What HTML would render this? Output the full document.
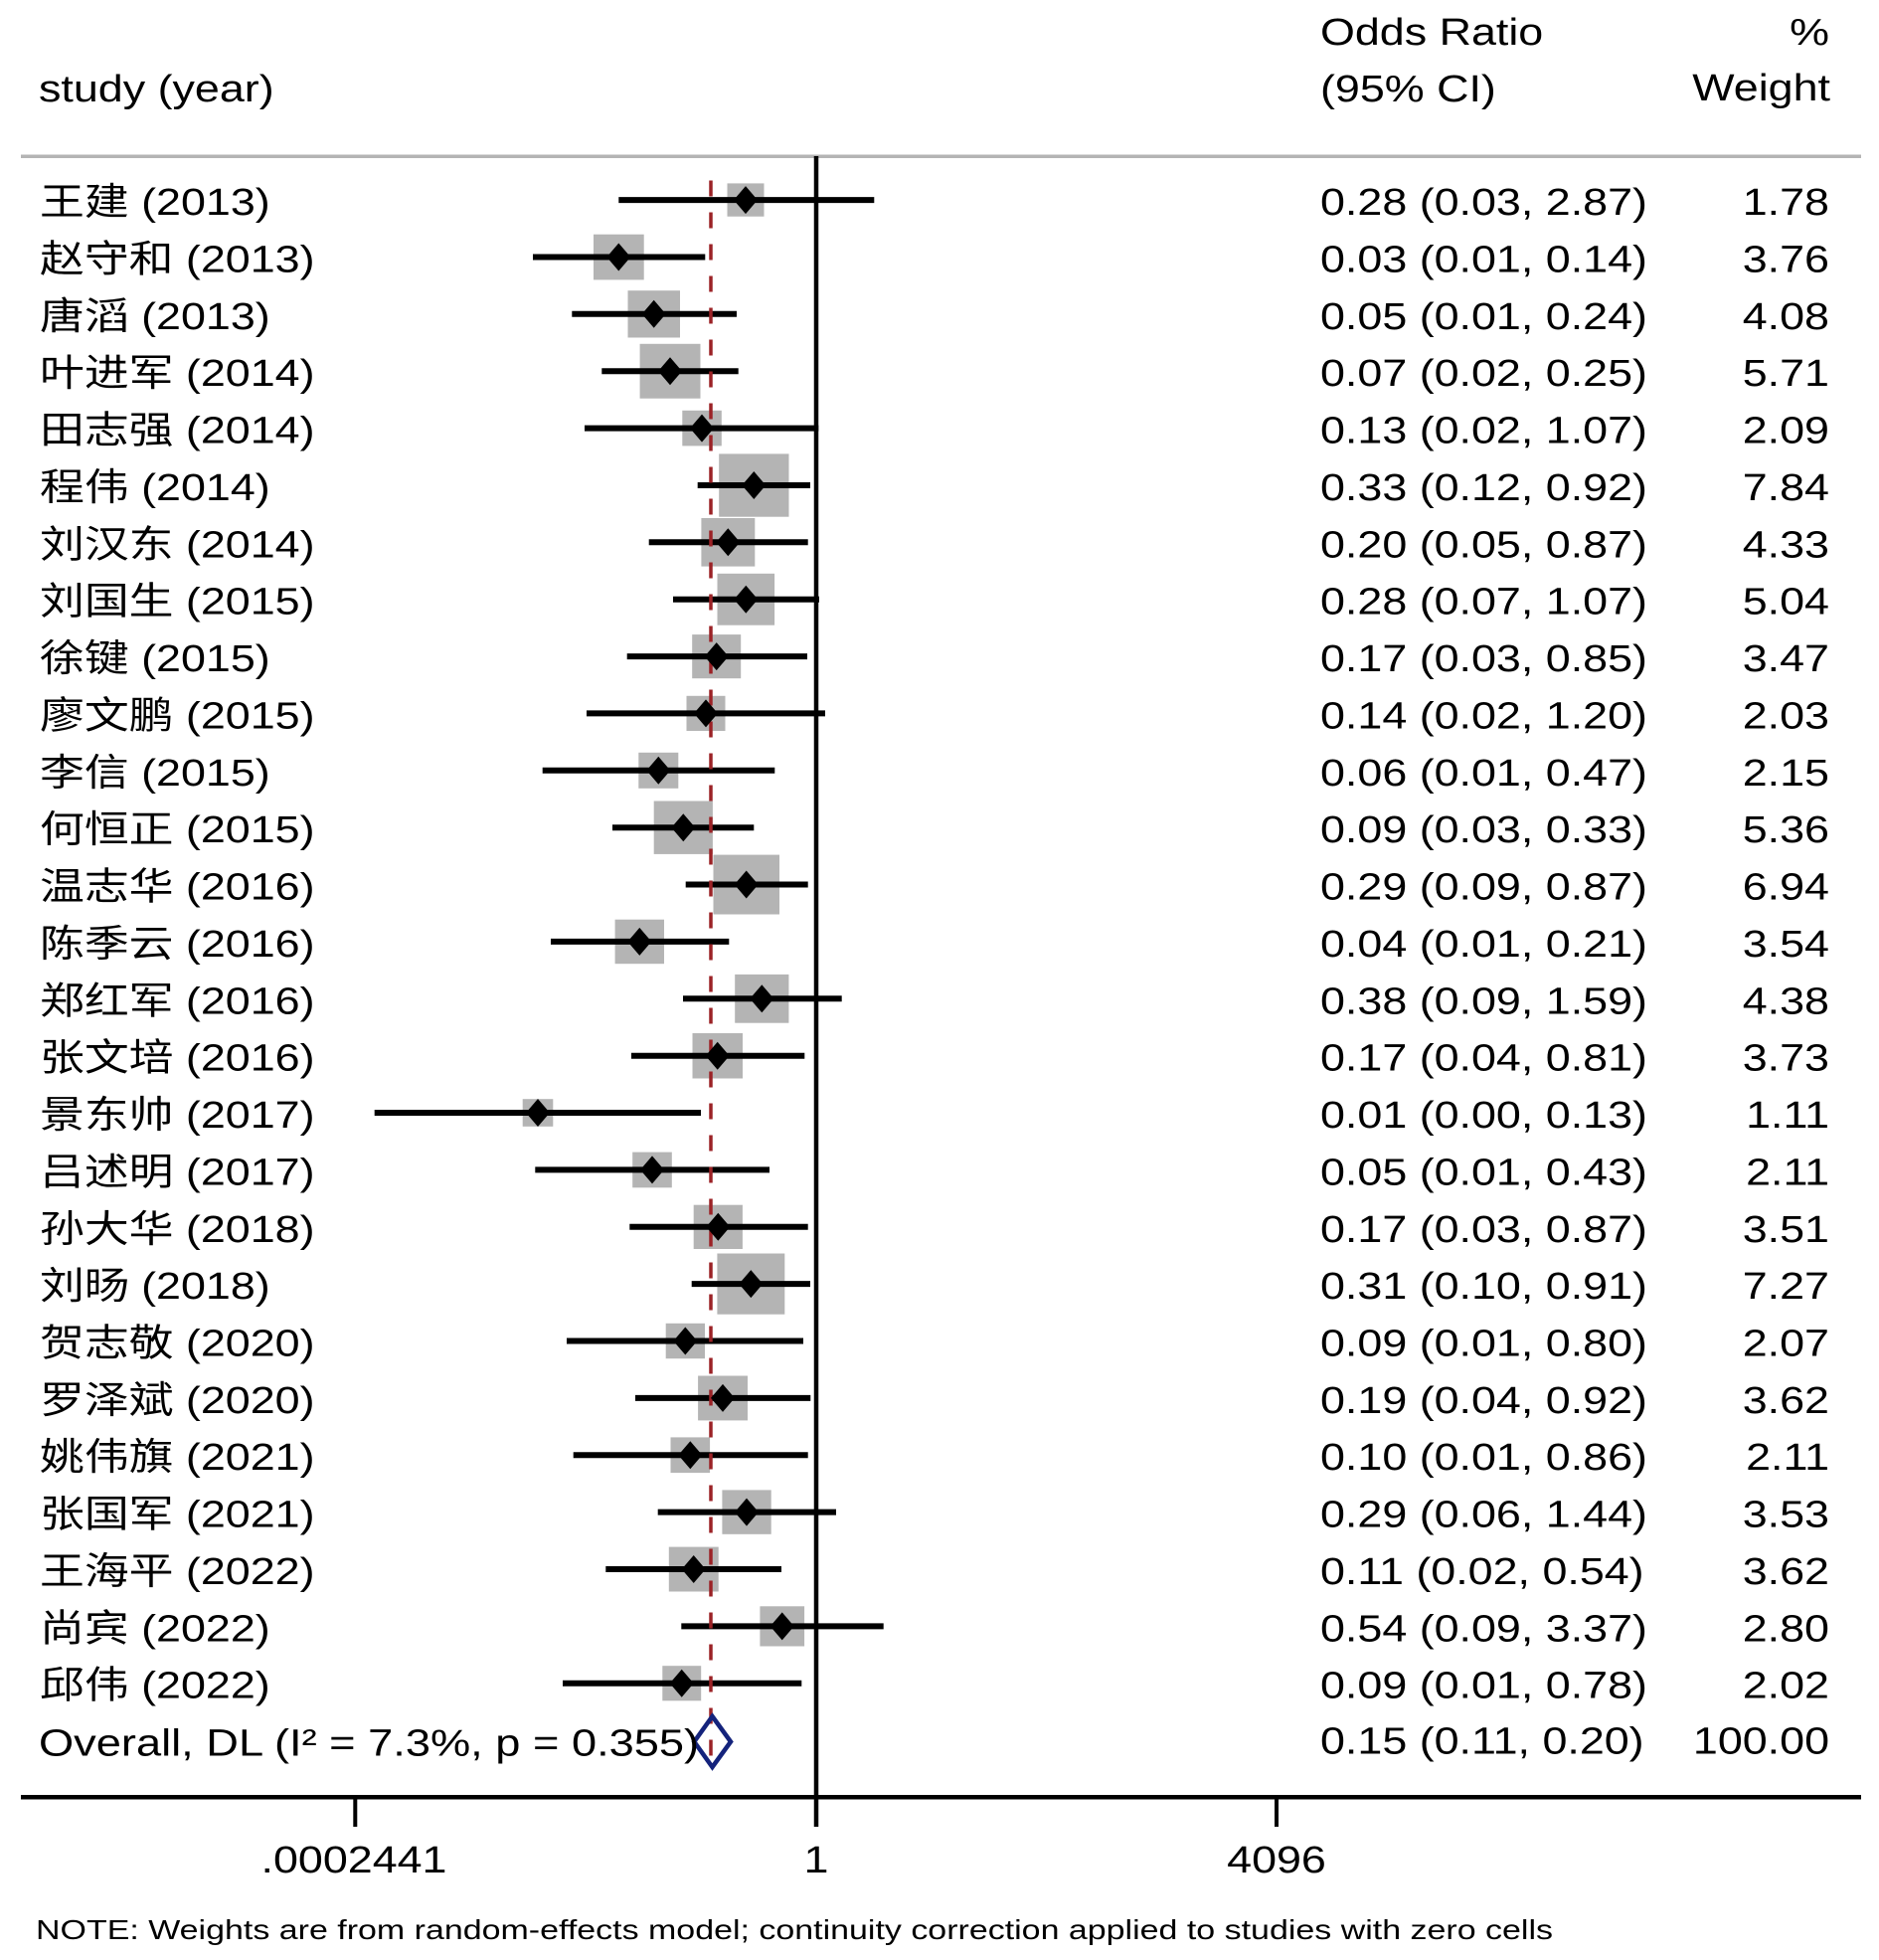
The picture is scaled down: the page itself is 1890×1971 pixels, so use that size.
<!DOCTYPE html>
<html>
<head>
<meta charset="utf-8">
<style>
  html,body{margin:0;padding:0;background:#fff;}
  svg{display:block;}
  text{font-family:"Liberation Sans","Noto Sans CJK SC",sans-serif;font-size:38px;fill:#000;}
  .note{font-size:28px;}
</style>
</head>
<body>
<svg width="1890" height="1971" viewBox="0 0 1890 1971" xmlns="http://www.w3.org/2000/svg">
  <rect x="0" y="0" width="1890" height="1971" fill="#fff"/>

  <!-- headers -->
  <text transform="translate(39,102) scale(1.18,1)">study (year)</text>
  <text transform="translate(1328,45) scale(1.18,1)">Odds Ratio</text>
  <text transform="translate(1328,102) scale(1.18,1)">(95% CI)</text>
  <text transform="translate(1840,45) scale(1.18,1)" text-anchor="end">%</text>
  <text transform="translate(1841,101) scale(1.18,1)" text-anchor="end">Weight</text>

  <!-- header rule -->
  <line x1="21" y1="157.3" x2="1872" y2="157.3" stroke="#b4b4b4" stroke-width="3.5"/>

  <!-- boxes -->
  <g fill="#b4b4b4">
    <rect x="731.5" y="184.4" width="37.0" height="33.3"/>
    <rect x="597.0" y="235.7" width="50.7" height="45.7"/>
    <rect x="631.5" y="292.2" width="52.5" height="47.3"/>
    <rect x="643.6" y="345.8" width="60.9" height="54.9"/>
    <rect x="686.3" y="412.8" width="39.5" height="35.6"/>
    <rect x="723.2" y="456.4" width="70.3" height="63.3"/>
    <rect x="705.4" y="521.0" width="53.9" height="48.6"/>
    <rect x="721.5" y="576.8" width="57.6" height="51.9"/>
    <rect x="696.2" y="638.1" width="49.0" height="44.1"/>
    <rect x="690.5" y="699.8" width="39.0" height="35.2"/>
    <rect x="642.3" y="756.8" width="40.0" height="36.0"/>
    <rect x="657.7" y="805.5" width="59.2" height="53.4"/>
    <rect x="717.5" y="859.6" width="66.5" height="59.9"/>
    <rect x="618.6" y="924.7" width="49.4" height="44.5"/>
    <rect x="739.2" y="979.9" width="54.2" height="48.8"/>
    <rect x="696.5" y="1039.0" width="50.5" height="45.5"/>
    <rect x="525.7" y="1105.2" width="30.6" height="27.6"/>
    <rect x="636.2" y="1158.6" width="39.6" height="35.7"/>
    <rect x="697.7" y="1211.7" width="49.2" height="44.3"/>
    <rect x="721.4" y="1260.5" width="67.9" height="61.2"/>
    <rect x="669.7" y="1330.8" width="39.3" height="35.4"/>
    <rect x="702.1" y="1383.5" width="49.9" height="44.9"/>
    <rect x="674.5" y="1445.4" width="39.6" height="35.7"/>
    <rect x="726.4" y="1498.4" width="49.3" height="44.4"/>
    <rect x="672.8" y="1555.6" width="49.9" height="44.9"/>
    <rect x="764.4" y="1615.3" width="44.7" height="40.2"/>
    <rect x="666.3" y="1675.2" width="38.9" height="35.1"/>
  </g>

  <!-- null line and axis -->
  <line x1="821" y1="157" x2="821" y2="1837" stroke="#000" stroke-width="4.5"/>
  <line x1="21" y1="1807.3" x2="1872" y2="1807.3" stroke="#000" stroke-width="4.5"/>
  <line x1="357.3" y1="1807" x2="357.3" y2="1837" stroke="#000" stroke-width="4"/>
  <line x1="1284" y1="1807" x2="1284" y2="1837" stroke="#000" stroke-width="4"/>

  <!-- CI lines -->
  <g stroke="#000" stroke-width="6">
    <line x1="622.3" y1="201.1" x2="879.3" y2="201.1"/>
    <line x1="536.0" y1="258.5" x2="709.3" y2="258.5"/>
    <line x1="575.3" y1="315.8" x2="741.0" y2="315.8"/>
    <line x1="605.3" y1="373.2" x2="742.7" y2="373.2"/>
    <line x1="588.0" y1="430.6" x2="823.3" y2="430.6"/>
    <line x1="701.7" y1="488.0" x2="815.0" y2="488.0"/>
    <line x1="652.7" y1="545.3" x2="812.7" y2="545.3"/>
    <line x1="677.0" y1="602.7" x2="824.0" y2="602.7"/>
    <line x1="630.7" y1="660.1" x2="812.0" y2="660.1"/>
    <line x1="590.0" y1="717.4" x2="830.0" y2="717.4"/>
    <line x1="545.7" y1="774.8" x2="779.3" y2="774.8"/>
    <line x1="616.0" y1="832.2" x2="758.3" y2="832.2"/>
    <line x1="689.7" y1="889.5" x2="812.7" y2="889.5"/>
    <line x1="554.0" y1="946.9" x2="733.3" y2="946.9"/>
    <line x1="687.0" y1="1004.3" x2="846.7" y2="1004.3"/>
    <line x1="635.0" y1="1061.7" x2="809.3" y2="1061.7"/>
    <line x1="376.7" y1="1119.0" x2="705.0" y2="1119.0"/>
    <line x1="538.3" y1="1176.4" x2="774.0" y2="1176.4"/>
    <line x1="633.3" y1="1233.8" x2="812.7" y2="1233.8"/>
    <line x1="695.7" y1="1291.1" x2="815.0" y2="1291.1"/>
    <line x1="570.0" y1="1348.5" x2="808.0" y2="1348.5"/>
    <line x1="639.0" y1="1405.9" x2="815.3" y2="1405.9"/>
    <line x1="576.7" y1="1463.2" x2="812.7" y2="1463.2"/>
    <line x1="661.7" y1="1520.6" x2="841.0" y2="1520.6"/>
    <line x1="609.3" y1="1578.0" x2="786.0" y2="1578.0"/>
    <line x1="685.3" y1="1635.4" x2="888.7" y2="1635.4"/>
    <line x1="566.0" y1="1692.7" x2="806.3" y2="1692.7"/>
  </g>

  <!-- overall dashed line -->
  <line x1="715" y1="181.5" x2="715" y2="1778" stroke="#9b2226" stroke-width="3.5" stroke-dasharray="16 16"/>

  <!-- point diamonds -->
  <g fill="#000">
    <polygon points="750,187.1 762,201.1 750,215.1 738,201.1"/>
    <polygon points="622.3,244.5 634.3,258.5 622.3,272.5 610.3,258.5"/>
    <polygon points="657.7,301.8 669.7,315.8 657.7,329.8 645.7,315.8"/>
    <polygon points="674,359.2 686,373.2 674,387.2 662,373.2"/>
    <polygon points="706,416.6 718,430.6 706,444.6 694,430.6"/>
    <polygon points="758.3,474 770.3,488 758.3,502 746.3,488"/>
    <polygon points="732.3,531.3 744.3,545.3 732.3,559.3 720.3,545.3"/>
    <polygon points="750.3,588.7 762.3,602.7 750.3,616.7 738.3,602.7"/>
    <polygon points="720.7,646.1 732.7,660.1 720.7,674.1 708.7,660.1"/>
    <polygon points="710,703.4 722,717.4 710,731.4 698,717.4"/>
    <polygon points="662.3,760.8 674.3,774.8 662.3,788.8 650.3,774.8"/>
    <polygon points="687.3,818.2 699.3,832.2 687.3,846.2 675.3,832.2"/>
    <polygon points="750.7,875.5 762.7,889.5 750.7,903.5 738.7,889.5"/>
    <polygon points="643.3,932.9 655.3,946.9 643.3,960.9 631.3,946.9"/>
    <polygon points="766.3,990.3 778.3,1004.3 766.3,1018.3 754.3,1004.3"/>
    <polygon points="721.7,1047.7 733.7,1061.7 721.7,1075.7 709.7,1061.7"/>
    <polygon points="541,1105 553,1119 541,1133 529,1119"/>
    <polygon points="656,1162.4 668,1176.4 656,1190.4 644,1176.4"/>
    <polygon points="722.3,1219.8 734.3,1233.8 722.3,1247.8 710.3,1233.8"/>
    <polygon points="755.3,1277.1 767.3,1291.1 755.3,1305.1 743.3,1291.1"/>
    <polygon points="689.3,1334.5 701.3,1348.5 689.3,1362.5 677.3,1348.5"/>
    <polygon points="727,1391.9 739,1405.9 727,1419.9 715,1405.9"/>
    <polygon points="694.3,1449.2 706.3,1463.2 694.3,1477.2 682.3,1463.2"/>
    <polygon points="751,1506.6 763,1520.6 751,1534.6 739,1520.6"/>
    <polygon points="697.7,1564 709.7,1578 697.7,1592 685.7,1578"/>
    <polygon points="786.7,1621.4 798.7,1635.4 786.7,1649.4 774.7,1635.4"/>
    <polygon points="685.7,1678.7 697.7,1692.7 685.7,1706.7 673.7,1692.7"/>
  </g>

  <!-- overall diamond -->
  <polygon points="716.5,1726 735,1751.5 716.5,1777 698.3,1751.5" fill="none" stroke="#14237c" stroke-width="4.5" stroke-linejoin="miter"/>

  <!-- study labels -->
  <g>
    <text transform="translate(40,216.1) scale(1.18,1)">王建 (2013)</text>
    <text transform="translate(40,273.5) scale(1.18,1)">赵守和 (2013)</text>
    <text transform="translate(40,330.8) scale(1.18,1)">唐滔 (2013)</text>
    <text transform="translate(40,388.2) scale(1.18,1)">叶进军 (2014)</text>
    <text transform="translate(40,445.6) scale(1.18,1)">田志强 (2014)</text>
    <text transform="translate(40,503.0) scale(1.18,1)">程伟 (2014)</text>
    <text transform="translate(40,560.3) scale(1.18,1)">刘汉东 (2014)</text>
    <text transform="translate(40,617.7) scale(1.18,1)">刘国生 (2015)</text>
    <text transform="translate(40,675.1) scale(1.18,1)">徐键 (2015)</text>
    <text transform="translate(40,732.4) scale(1.18,1)">廖文鹏 (2015)</text>
    <text transform="translate(40,789.8) scale(1.18,1)">李信 (2015)</text>
    <text transform="translate(40,847.2) scale(1.18,1)">何恒正 (2015)</text>
    <text transform="translate(40,904.5) scale(1.18,1)">温志华 (2016)</text>
    <text transform="translate(40,961.9) scale(1.18,1)">陈季云 (2016)</text>
    <text transform="translate(40,1019.3) scale(1.18,1)">郑红军 (2016)</text>
    <text transform="translate(40,1076.7) scale(1.18,1)">张文培 (2016)</text>
    <text transform="translate(40,1134.0) scale(1.18,1)">景东帅 (2017)</text>
    <text transform="translate(40,1191.4) scale(1.18,1)">吕述明 (2017)</text>
    <text transform="translate(40,1248.8) scale(1.18,1)">孙大华 (2018)</text>
    <text transform="translate(40,1306.1) scale(1.18,1)">刘旸 (2018)</text>
    <text transform="translate(40,1363.5) scale(1.18,1)">贺志敬 (2020)</text>
    <text transform="translate(40,1420.9) scale(1.18,1)">罗泽斌 (2020)</text>
    <text transform="translate(40,1478.2) scale(1.18,1)">姚伟旗 (2021)</text>
    <text transform="translate(40,1535.6) scale(1.18,1)">张国军 (2021)</text>
    <text transform="translate(40,1593.0) scale(1.18,1)">王海平 (2022)</text>
    <text transform="translate(40,1650.4) scale(1.18,1)">尚宾 (2022)</text>
    <text transform="translate(40,1707.7) scale(1.18,1)">邱伟 (2022)</text>
    <text transform="translate(39,1765.6) scale(1.19,1)">Overall, DL (I² = 7.3%, p = 0.355)</text>
  </g>

  <!-- OR (95% CI) -->
  <g>
    <text transform="translate(1328,216.1) scale(1.18,1)">0.28 (0.03, 2.87)</text>
    <text transform="translate(1328,273.5) scale(1.18,1)">0.03 (0.01, 0.14)</text>
    <text transform="translate(1328,330.8) scale(1.18,1)">0.05 (0.01, 0.24)</text>
    <text transform="translate(1328,388.2) scale(1.18,1)">0.07 (0.02, 0.25)</text>
    <text transform="translate(1328,445.6) scale(1.18,1)">0.13 (0.02, 1.07)</text>
    <text transform="translate(1328,503.0) scale(1.18,1)">0.33 (0.12, 0.92)</text>
    <text transform="translate(1328,560.3) scale(1.18,1)">0.20 (0.05, 0.87)</text>
    <text transform="translate(1328,617.7) scale(1.18,1)">0.28 (0.07, 1.07)</text>
    <text transform="translate(1328,675.1) scale(1.18,1)">0.17 (0.03, 0.85)</text>
    <text transform="translate(1328,732.4) scale(1.18,1)">0.14 (0.02, 1.20)</text>
    <text transform="translate(1328,789.8) scale(1.18,1)">0.06 (0.01, 0.47)</text>
    <text transform="translate(1328,847.2) scale(1.18,1)">0.09 (0.03, 0.33)</text>
    <text transform="translate(1328,904.5) scale(1.18,1)">0.29 (0.09, 0.87)</text>
    <text transform="translate(1328,961.9) scale(1.18,1)">0.04 (0.01, 0.21)</text>
    <text transform="translate(1328,1019.3) scale(1.18,1)">0.38 (0.09, 1.59)</text>
    <text transform="translate(1328,1076.7) scale(1.18,1)">0.17 (0.04, 0.81)</text>
    <text transform="translate(1328,1134.0) scale(1.18,1)">0.01 (0.00, 0.13)</text>
    <text transform="translate(1328,1191.4) scale(1.18,1)">0.05 (0.01, 0.43)</text>
    <text transform="translate(1328,1248.8) scale(1.18,1)">0.17 (0.03, 0.87)</text>
    <text transform="translate(1328,1306.1) scale(1.18,1)">0.31 (0.10, 0.91)</text>
    <text transform="translate(1328,1363.5) scale(1.18,1)">0.09 (0.01, 0.80)</text>
    <text transform="translate(1328,1420.9) scale(1.18,1)">0.19 (0.04, 0.92)</text>
    <text transform="translate(1328,1478.2) scale(1.18,1)">0.10 (0.01, 0.86)</text>
    <text transform="translate(1328,1535.6) scale(1.18,1)">0.29 (0.06, 1.44)</text>
    <text transform="translate(1328,1593.0) scale(1.18,1)">0.11 (0.02, 0.54)</text>
    <text transform="translate(1328,1650.4) scale(1.18,1)">0.54 (0.09, 3.37)</text>
    <text transform="translate(1328,1707.7) scale(1.18,1)">0.09 (0.01, 0.78)</text>
    <text transform="translate(1328,1763.6) scale(1.18,1)">0.15 (0.11, 0.20)</text>
  </g>

  <!-- weights -->
  <g text-anchor="end">
    <text transform="translate(1840,216.1) scale(1.18,1)">1.78</text>
    <text transform="translate(1840,273.5) scale(1.18,1)">3.76</text>
    <text transform="translate(1840,330.8) scale(1.18,1)">4.08</text>
    <text transform="translate(1840,388.2) scale(1.18,1)">5.71</text>
    <text transform="translate(1840,445.6) scale(1.18,1)">2.09</text>
    <text transform="translate(1840,503.0) scale(1.18,1)">7.84</text>
    <text transform="translate(1840,560.3) scale(1.18,1)">4.33</text>
    <text transform="translate(1840,617.7) scale(1.18,1)">5.04</text>
    <text transform="translate(1840,675.1) scale(1.18,1)">3.47</text>
    <text transform="translate(1840,732.4) scale(1.18,1)">2.03</text>
    <text transform="translate(1840,789.8) scale(1.18,1)">2.15</text>
    <text transform="translate(1840,847.2) scale(1.18,1)">5.36</text>
    <text transform="translate(1840,904.5) scale(1.18,1)">6.94</text>
    <text transform="translate(1840,961.9) scale(1.18,1)">3.54</text>
    <text transform="translate(1840,1019.3) scale(1.18,1)">4.38</text>
    <text transform="translate(1840,1076.7) scale(1.18,1)">3.73</text>
    <text transform="translate(1840,1134.0) scale(1.18,1)">1.11</text>
    <text transform="translate(1840,1191.4) scale(1.18,1)">2.11</text>
    <text transform="translate(1840,1248.8) scale(1.18,1)">3.51</text>
    <text transform="translate(1840,1306.1) scale(1.18,1)">7.27</text>
    <text transform="translate(1840,1363.5) scale(1.18,1)">2.07</text>
    <text transform="translate(1840,1420.9) scale(1.18,1)">3.62</text>
    <text transform="translate(1840,1478.2) scale(1.18,1)">2.11</text>
    <text transform="translate(1840,1535.6) scale(1.18,1)">3.53</text>
    <text transform="translate(1840,1593.0) scale(1.18,1)">3.62</text>
    <text transform="translate(1840,1650.4) scale(1.18,1)">2.80</text>
    <text transform="translate(1840,1707.7) scale(1.18,1)">2.02</text>
    <text transform="translate(1840,1763.6) scale(1.18,1)">100.00</text>
  </g>

  <!-- tick labels -->
  <g text-anchor="middle">
    <text transform="translate(356,1883) scale(1.18,1)">.0002441</text>
    <text transform="translate(821,1883) scale(1.18,1)">1</text>
    <text transform="translate(1284,1883) scale(1.18,1)">4096</text>
  </g>

  <!-- note -->
  <text class="note" x="36" y="1950" textLength="1526" lengthAdjust="spacingAndGlyphs">NOTE: Weights are from random-effects model; continuity correction applied to studies with zero cells</text>
</svg>
</body>
</html>
